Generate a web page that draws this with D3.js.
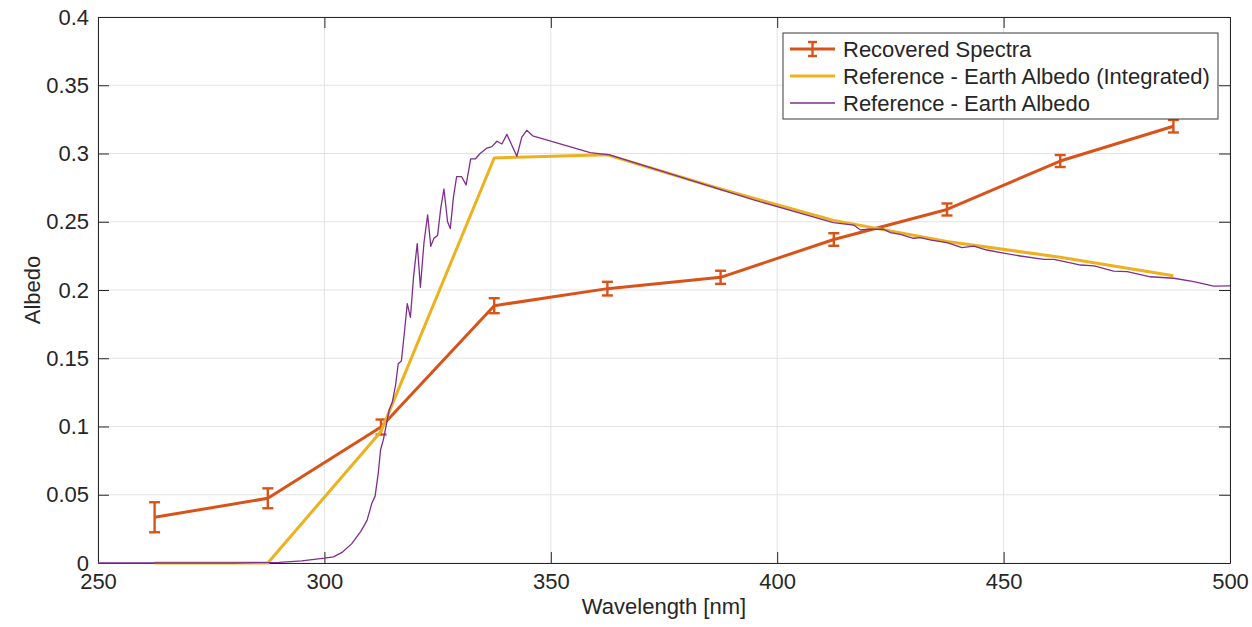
<!DOCTYPE html>
<html>
<head>
<meta charset="utf-8">
<script src="https://cdn.jsdelivr.net/npm/d3@7"></script>
<style>
  body { margin: 0; background: #fff; }
  svg text { font-family: "Liberation Sans", Helvetica, Arial, sans-serif; fill: #262626; }
</style>
</head>
<body>
<div id="chart"></div>
<script>
// recovered spectra (with error bars)
var recWl  = [262.5, 287.5, 312.5, 337.5, 362.5, 387.5, 412.5, 437.5, 462.5, 487.5];
var recVal = [0.0335, 0.0474, 0.0996, 0.1885, 0.2010, 0.2093, 0.2370, 0.2590, 0.2945, 0.3200];
var recErr = [0.0110, 0.0073, 0.0055, 0.0055, 0.0050, 0.0048, 0.0046, 0.0044, 0.0044, 0.0046];

// reference integrated over the same bins
var intWl  = [262.5, 287.5, 312.5, 337.5, 362.5, 387.5, 412.5, 437.5, 462.5, 487.5];
var intVal = [0, 0, 0.0964, 0.2967, 0.2990, 0.2740, 0.2510, 0.2355, 0.2240, 0.2105];

// reference earth albedo (full resolution)
var refWl  = [250, 260, 270, 280, 290, 295, 300, 302, 304, 306, 308, 309.4, 310.5, 311.2, 311.9, 312.4,
              313.0, 313.6, 314.3, 315.0, 315.7, 316.3, 317.0, 317.7, 318.3, 319.0, 319.7, 320.5, 321.2,
              322.0, 322.8, 323.5, 324.2, 325.0, 325.7, 326.4, 327.2, 327.8, 328.5, 329.2, 330.3, 331.3,
              332.3, 333.3, 334.4, 335.9, 337.0, 338.1, 339.2, 340.3, 341.4, 342.5, 343.6, 344.7, 346.0,
              358.7, 363, 394.8, 412.4, 416.9, 418.4, 420, 423.5, 425, 427.2, 430.1, 431.6, 434, 437.5,
              440.8, 443.4, 446.3, 450, 453.7, 458.9, 461.1, 464, 467, 470, 474.3, 477.3, 482.4, 487.6,
              492, 496.4, 500];
var refVal = [0, 0, 0, 0, 0.0005, 0.0015, 0.0035, 0.0045, 0.008, 0.014, 0.023, 0.031, 0.044, 0.049, 0.066, 0.083,
              0.090, 0.100, 0.112, 0.118, 0.130, 0.146, 0.148, 0.170, 0.190, 0.180, 0.210, 0.234, 0.202,
              0.235, 0.255, 0.232, 0.238, 0.240, 0.260, 0.274, 0.250, 0.245, 0.268, 0.283, 0.283, 0.277,
              0.296, 0.296, 0.300, 0.304, 0.305, 0.309, 0.307, 0.314, 0.306, 0.298, 0.312, 0.317, 0.313,
              0.3006, 0.299, 0.266, 0.2493, 0.2476, 0.244, 0.2445, 0.2445, 0.242, 0.2408, 0.2379, 0.2383, 0.2365, 0.2347,
              0.231, 0.2322, 0.2293, 0.227, 0.2249, 0.2225, 0.2225, 0.2205, 0.2183, 0.2176, 0.2139, 0.2134, 0.2097, 0.2086,
              0.2061, 0.2029, 0.203];

var xTicks = [250, 300, 350, 400, 450, 500];
var yTicks = [0, 0.05, 0.1, 0.15, 0.2, 0.25, 0.3, 0.35, 0.4];
var legendLabels = ["Recovered Spectra", "Reference - Earth Albedo (Integrated)", "Reference - Earth Albedo"];

var orange = "#D95319", yellow = "#EDB120", purple = "#7E2F8E";

var width = 1252, height = 627;
var mLeft = 98, mRight = 1230, mTop = 17, mBottom = 563;

var svg = d3.select("#chart").append("svg").attr("width", width).attr("height", height);

var x = d3.scaleLinear().domain([250, 500]).range([mLeft, mRight]);
var y = d3.scaleLinear().domain([0, 0.4]).range([mBottom, mTop]);

// grid
svg.append("g").selectAll("line").data(xTicks).enter().append("line")
  .attr("x1", d => x(d)).attr("x2", d => x(d)).attr("y1", mTop).attr("y2", mBottom)
  .attr("stroke", "#e3e3e3").attr("stroke-width", 1);
svg.append("g").selectAll("line").data(yTicks).enter().append("line")
  .attr("y1", d => y(d)).attr("y2", d => y(d)).attr("x1", mLeft).attr("x2", mRight)
  .attr("stroke", "#e3e3e3").attr("stroke-width", 1);

// axes (ticks inward, box on)
function styleAxis(g) {
  g.select(".domain").attr("stroke", "#262626");
  g.selectAll(".tick line").attr("stroke", "#262626");
  g.selectAll(".tick text").attr("font-size", 22).attr("fill", "#262626")
    .attr("font-family", "Liberation Sans, Helvetica, Arial, sans-serif");
}
svg.append("g").attr("transform", "translate(0," + mBottom + ")")
  .call(d3.axisBottom(x).tickValues(xTicks).tickSize(-11).tickSizeOuter(0).tickPadding(10))
  .call(styleAxis);
svg.append("g").attr("transform", "translate(" + mLeft + ",0)")
  .call(d3.axisLeft(y).tickValues(yTicks).tickSize(-11).tickSizeOuter(0).tickPadding(9).tickFormat(d3.format("")))
  .call(styleAxis);
svg.append("g").attr("transform", "translate(0," + mTop + ")")
  .call(d3.axisTop(x).tickValues(xTicks).tickSize(-11).tickSizeOuter(0).tickFormat(""))
  .call(styleAxis);
svg.append("g").attr("transform", "translate(" + mRight + ",0)")
  .call(d3.axisRight(y).tickValues(yTicks).tickSize(-11).tickSizeOuter(0).tickFormat(""))
  .call(styleAxis);

// axis labels
svg.append("text").attr("x", (mLeft + mRight) / 2).attr("y", 614).attr("text-anchor", "middle")
  .attr("font-size", 22).text("Wavelength [nm]");
svg.append("text").attr("transform", "translate(40," + ((mTop + mBottom) / 2) + ") rotate(-90)")
  .attr("text-anchor", "middle").attr("font-size", 22).text("Albedo");

var plot = svg.append("g");

var line = d3.line().x(d => x(d[0])).y(d => y(d[1]));

// recovered spectra
var recData = d3.zip(recWl, recVal, recErr);
plot.append("path").datum(recData).attr("d", line)
  .attr("fill", "none").attr("stroke", orange).attr("stroke-width", 3).attr("stroke-linejoin", "round");

var eb = plot.append("g").attr("stroke", orange).attr("stroke-width", 2.4).selectAll("g")
  .data(recData).enter().append("g");
eb.append("line").attr("x1", d => x(d[0])).attr("x2", d => x(d[0]))
  .attr("y1", d => y(d[1] - d[2])).attr("y2", d => y(d[1] + d[2]));
eb.append("line").attr("x1", d => x(d[0]) - 5.5).attr("x2", d => x(d[0]) + 5.5)
  .attr("y1", d => y(d[1] - d[2])).attr("y2", d => y(d[1] - d[2]));
eb.append("line").attr("x1", d => x(d[0]) - 5.5).attr("x2", d => x(d[0]) + 5.5)
  .attr("y1", d => y(d[1] + d[2])).attr("y2", d => y(d[1] + d[2]));

// integrated reference
plot.append("path").datum(d3.zip(intWl, intVal)).attr("d", line)
  .attr("fill", "none").attr("stroke", yellow).attr("stroke-width", 3).attr("stroke-linejoin", "round");

// reference earth albedo
plot.append("path").datum(d3.zip(refWl, refVal)).attr("d", line)
  .attr("fill", "none").attr("stroke", purple).attr("stroke-width", 1.3).attr("stroke-linejoin", "round");

// legend
var lg = svg.append("g").attr("transform", "translate(783,33)");
lg.append("rect").attr("width", 435).attr("height", 86).attr("fill", "#fff")
  .attr("stroke", "#3a3a3a").attr("stroke-width", 1);
var rowY = [16, 43, 70];
var colors = [orange, yellow, purple];
var widths = [3, 3, 1.3];
legendLabels.forEach(function (lab, i) {
  lg.append("line").attr("x1", 7).attr("x2", 52).attr("y1", rowY[i]).attr("y2", rowY[i])
    .attr("stroke", colors[i]).attr("stroke-width", widths[i]);
  lg.append("text").attr("x", 60).attr("y", rowY[i]).attr("dy", "0.36em")
    .attr("font-size", 22).text(lab);
});
lg.append("line").attr("x1", 29.5).attr("x2", 29.5).attr("y1", rowY[0] - 7).attr("y2", rowY[0] + 7)
  .attr("stroke", orange).attr("stroke-width", 2.4);
lg.append("line").attr("x1", 25).attr("x2", 34).attr("y1", rowY[0] - 7).attr("y2", rowY[0] - 7)
  .attr("stroke", orange).attr("stroke-width", 2.4);
lg.append("line").attr("x1", 25).attr("x2", 34).attr("y1", rowY[0] + 7).attr("y2", rowY[0] + 7)
  .attr("stroke", orange).attr("stroke-width", 2.4);
</script>
</body>
</html>
